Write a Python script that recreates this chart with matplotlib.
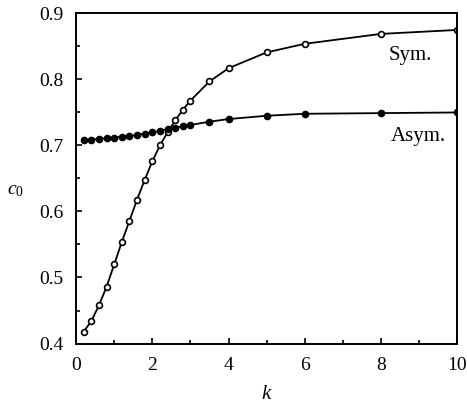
import matplotlib
matplotlib.use("Agg")
import matplotlib.pyplot as plt
from matplotlib.ticker import MultipleLocator

plt.rcParams['font.family'] = ['Liberation Serif', 'DejaVu Serif']
plt.rcParams['mathtext.fontset'] = 'custom'
plt.rcParams['mathtext.rm'] = 'Liberation Serif'
plt.rcParams['mathtext.it'] = 'Liberation Serif:italic'

k_sym = [0.2, 0.4, 0.6, 0.8, 1.0, 1.2, 1.4, 1.6, 1.8, 2.0, 2.2, 2.4, 2.6, 2.8, 3.0,
         3.5, 4.0, 5.0, 6.0, 8.0, 10.0]
c0_sym = [0.418, 0.434, 0.458, 0.486, 0.520, 0.554, 0.586, 0.618, 0.648, 0.676,
          0.700, 0.720, 0.738, 0.754, 0.768, 0.797, 0.817, 0.841, 0.854, 0.869, 0.875]

k_asym = k_sym
c0_asym = [0.708, 0.709, 0.710, 0.711, 0.712, 0.713, 0.714, 0.716, 0.718, 0.720,
           0.722, 0.725, 0.727, 0.729, 0.731, 0.736, 0.740, 0.745, 0.748, 0.749, 0.750]

xticks = [0, 2, 4, 6, 8, 10]
yticks = [0.4, 0.5, 0.6, 0.7, 0.8, 0.9]

fig = plt.figure(figsize=(4.67, 4.07), dpi=100)
ax = fig.add_axes([0.163, 0.156, 0.816, 0.811])

ax.plot(k_sym, c0_sym, color='black', lw=1.3, marker='o', ms=4.2,
        mfc='white', mec='black', mew=1.2)
ax.plot(k_asym, c0_asym, color='black', lw=1.3, marker='o', ms=4.5,
        mfc='black', mec='black')

ax.set_xlim(0, 10)
ax.set_ylim(0.4, 0.9)
ax.set_xticks(xticks)
ax.set_yticks(yticks)
ax.set_xticklabels([str(t) for t in xticks])
ax.set_yticklabels([f"{t:.1f}" for t in yticks])
ax.xaxis.set_minor_locator(MultipleLocator(1))
ax.yaxis.set_minor_locator(MultipleLocator(0.05))
ax.tick_params(which='both', direction='in', top=False, right=False,
               labelsize=14, width=1.2)
ax.tick_params(which='major', length=4)
ax.tick_params(which='minor', length=3)
ax.tick_params(axis='x', which='major', pad=10)
ax.tick_params(axis='y', which='major', pad=9)
for s in ax.spines.values():
    s.set_linewidth(1.4)

ax.set_xlabel(r'$k$', fontsize=15, va='center')
ax.xaxis.set_label_coords(0.5, -0.155)
ax.set_ylabel(r'$c_{0}$', fontsize=14, rotation=0, va='center')
ax.yaxis.set_label_coords(-0.16, 0.465)

ax.text(8.77, 0.837, 'Sym.', fontsize=15, ha='center', va='center')
ax.text(8.98, 0.714, 'Asym.', fontsize=15, ha='center', va='center')

fig.savefig('out.png', dpi=100)
